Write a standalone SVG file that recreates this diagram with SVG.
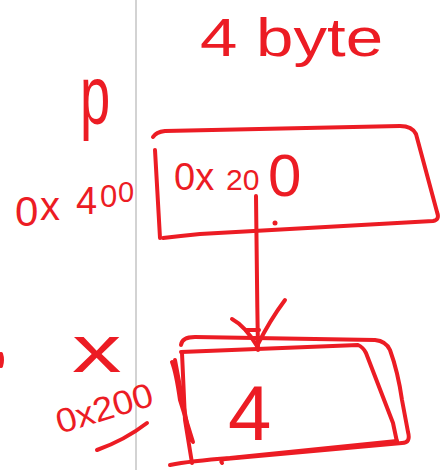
<svg xmlns="http://www.w3.org/2000/svg" width="442" height="470" viewBox="0 0 442 470">
  <style>
    .ink { fill: none; stroke: #ec1c24; stroke-width: 4; stroke-linecap: round; stroke-linejoin: round; }
    .hand { fill: #ec1c24; font-family: "Liberation Sans", Arial, sans-serif; }
  </style>
  <rect width="442" height="470" fill="#ffffff"/>
  <!-- page divider -->
  <line x1="136" y1="0" x2="136" y2="470" stroke="#c8c8c8" stroke-width="1.6"/>
  <!-- size note -->
  <text class="hand" x="200" y="56" font-size="54" textLength="183" lengthAdjust="spacingAndGlyphs">4 byte</text>
  <!-- stray mark at the left edge -->
  <path class="ink" d="M1,354 Q3,360 1,366"/>

  <!-- pointer variable p -->
  <g id="var-p">
    <text class="hand" font-size="64" transform="translate(80 124) scale(0.85 1.3)">p</text>
    <text class="hand">
      <tspan x="15" y="226" font-size="42">0</tspan><tspan x="40" y="220" font-size="40">x</tspan><tspan x="76" y="214" font-size="38">4</tspan><tspan x="100" y="207" font-size="31">0</tspan><tspan x="118" y="202" font-size="29">0</tspan>
    </text>
    <path class="ink" d="M153,137 Q156,132 165,131 L400,126 Q412,126 416,134 L437,212 Q440,220 433,221 Q300,228 200,234 Q180,236 163,238"/>
    <path class="ink" d="M155,150 L160,238"/>
    <text class="hand" y="190">
      <tspan x="174" font-size="38">0x</tspan><tspan x="226" font-size="30">20</tspan><tspan x="268" y="196" font-size="60">0</tspan>
    </text>
    <circle cx="275" cy="223" r="2.5" fill="#ec1c24"/>
  </g>

  <!-- variable x -->
  <g id="var-x">
    <text class="hand" font-size="66" transform="translate(72 372) scale(1.5 1)">x</text>
    <text class="hand" x="60" y="434" font-size="34" textLength="100" lengthAdjust="spacingAndGlyphs" transform="rotate(-17 60 434)">0x200</text>
    <path class="ink" d="M97,450 Q125,440 147,423"/>
    <path class="ink" d="M181,345 Q182,337 195,337 L375,340 Q386,341 390,350 Q398,372 402,400 L408,432 Q411,443 402,443 L225,459 Q220,460 222,463"/>
    <path class="ink" d="M181,352 L358,345 Q363,347 366,353 L393,423 L397,442"/>
    <path class="ink" d="M172,362 Q176,372 180,400 L193,442"/>
    <path class="ink" d="M182,353 L185,420 L192,463"/>
    <path class="ink" d="M175,360 L190,440"/>
    <path class="ink" d="M170,465 Q190,461 230,458 L397,441"/>
    <text class="hand" x="228" y="440" font-size="78">4</text>
  </g>

  <!-- p points to x -->
  <g id="connectors">
    <path class="ink" d="M256,196 C257,260 257,300 258,350"/>
    <path class="ink" d="M285,300 Q270,320 257,346"/>
    <path class="ink" d="M232,319 Q245,326 257,346"/>
    <path class="ink" d="M246,330 L259,330"/>
  </g>
</svg>
